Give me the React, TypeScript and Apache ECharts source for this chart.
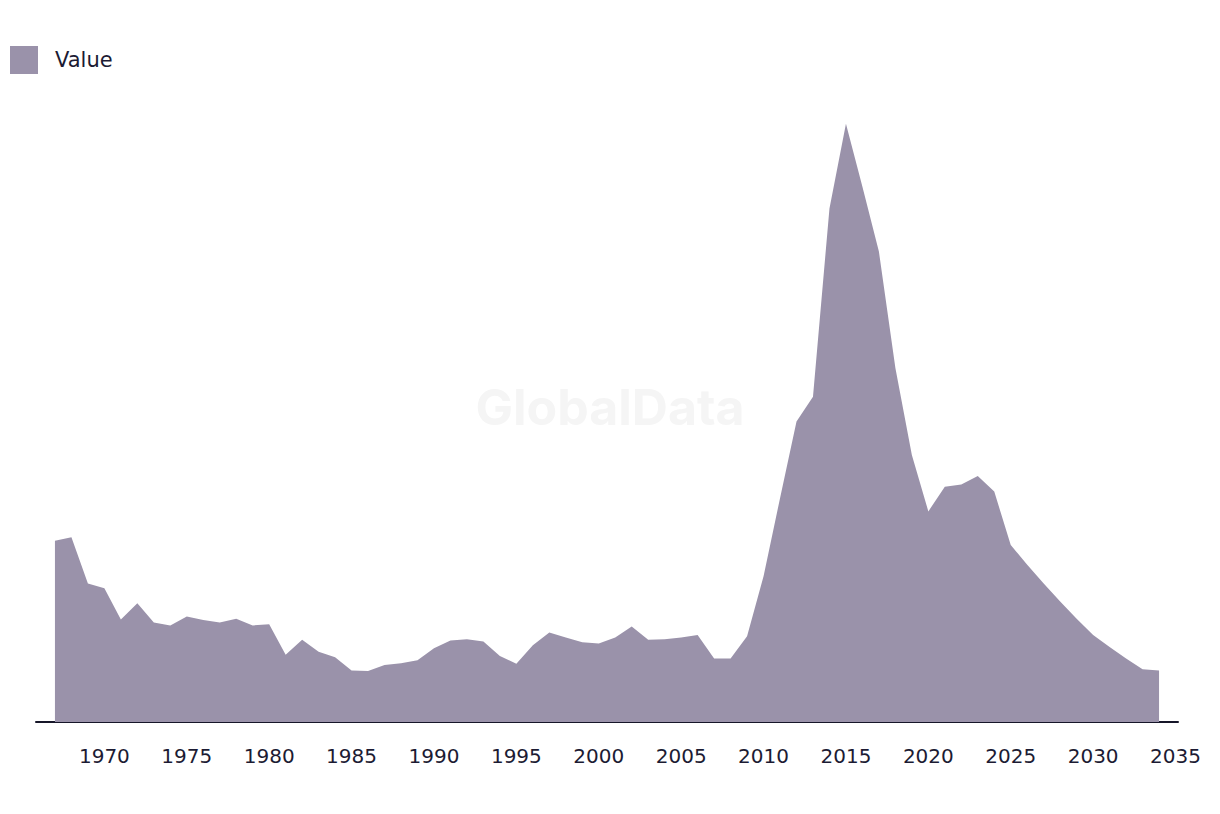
import React, { useEffect, useRef } from "react";
import * as echarts from "echarts";

const years: number[] = [
  1967, 1968, 1969, 1970, 1971, 1972, 1973, 1974, 1975, 1976, 1977, 1978, 1979, 1980,
  1981, 1982, 1983, 1984, 1985, 1986, 1987, 1988, 1989, 1990, 1991, 1992, 1993, 1994,
  1995, 1996, 1997, 1998, 1999, 2000, 2001, 2002, 2003, 2004, 2005, 2006, 2007, 2008,
  2009, 2010, 2011, 2012, 2013, 2014, 2015, 2016, 2017, 2018, 2019, 2020, 2021, 2022,
  2023, 2024, 2025, 2026, 2027, 2028, 2029, 2030, 2031, 2032, 2033, 2034,
];

const values: number[] = [
  30.2, 30.8, 23.1, 22.3, 17.1, 19.8, 16.6, 16.1, 17.6, 17.0, 16.6, 17.2, 16.1, 16.3,
  11.2, 13.7, 11.7, 10.8, 8.6, 8.5, 9.5, 9.8, 10.3, 12.3, 13.6, 13.8, 13.4, 11.0,
  9.7, 12.8, 14.9, 14.1, 13.3, 13.1, 14.1, 15.9, 13.7, 13.8, 14.1, 14.5, 10.6, 10.6,
  14.3, 24.3, 37.3, 50.1, 54.2, 85.6, 99.7, 89.2, 78.4, 59.0, 44.5, 35.1, 39.2, 39.6,
  41.0, 38.4, 29.5, 26.2, 23.1, 20.1, 17.2, 14.5, 12.5, 10.6, 8.8, 8.6,
];

const tickYears: number[] = [1970, 1975, 1980, 1985, 1990, 1995, 2000, 2005, 2010, 2015, 2020, 2025, 2030, 2035];

const seriesName = "Value";

export default function App() {
  const ref = useRef<HTMLDivElement>(null);
  useEffect(() => {
    document.body.style.margin = "0";
    if (!ref.current) return;
    const chart = echarts.init(ref.current, undefined, { renderer: "svg" });
    const color = "#9a92aa";
    const font = "'DejaVu Sans', sans-serif";
    chart.setOption({
      animation: false,
      backgroundColor: "#ffffff",
      legend: {
        left: 5,
        top: 41,
        icon: "rect",
        itemWidth: 28,
        itemHeight: 28,
        itemGap: 20,
        textStyle: { fontSize: 21, color: "#1c1b33", fontFamily: font, padding: [0, 0, 0, 12] },
        data: [{ name: seriesName, itemStyle: { color } }],
      },
      graphic: [
        {
          type: "text",
          x: 610,
          y: 407,
          z: -1,
          style: {
            text: "GlobalData",
            fontSize: 50,
            fontWeight: "bold",
            fontFamily: "Inter",
            fill: "#f5f5f5",
            align: "center",
            verticalAlign: "middle",
          },
        },
      ],
      grid: { left: 36, right: 42, top: 122, bottom: 92 },
      xAxis: {
        type: "value",
        min: 1965.85,
        max: 2035.15,
        splitLine: { show: false },
        axisTick: { show: false },
        axisLine: { show: true, lineStyle: { color: "#161629", width: 2 } },
        axisLabel: {
          customValues: tickYears,
          formatter: (v: number) => String(Math.round(v)),
          fontSize: 20,
          color: "#1c1b33",
          fontFamily: font,
          margin: 24,
        },
      },
      yAxis: {
        type: "value",
        min: 0,
        max: 100,
        show: false,
        splitLine: { show: false },
      },
      series: [
        {
          name: seriesName,
          type: "line",
          data: years.map((y, i) => [y, values[i]]),
          showSymbol: false,
          symbol: "none",
          lineStyle: { width: 0, color },
          itemStyle: { color },
          areaStyle: { color, opacity: 1 },
          z: 2,
        },
      ],
    });
    return () => chart.dispose();
  }, []);
  return <div ref={ref} style={{ width: 1220, height: 814 }} />;
}
